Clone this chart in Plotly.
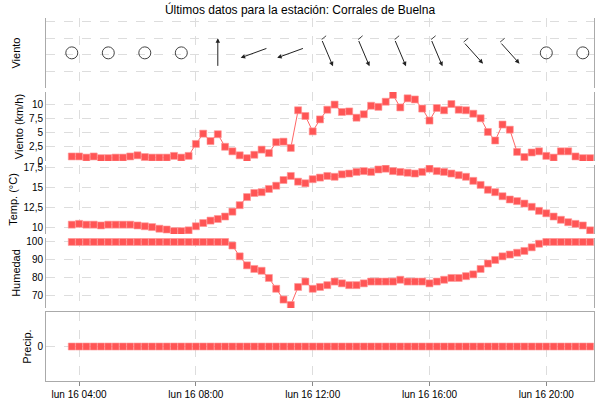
import plotly.graph_objects as go
import pandas as pd
import math

times = pd.date_range("2024-01-16 03:45", periods=72, freq="15min")

wind_speed = [0.8,0.8,0.6,0.8,0.5,0.5,0.6,0.6,0.8,1.0,0.7,0.6,0.6,0.6,0.9,0.6,0.9,3.0,4.8,3.5,
              4.7,2.5,1.7,1.0,0.5,1.1,2.0,1.4,3.3,3.4,2.3,8.9,7.9,5.2,7.3,9.0,9.9,8.6,8.7,7.6,
              8.2,9.7,9.5,10.4,11.6,9.4,11.0,10.8,9.2,7.1,9.3,8.9,10.0,9.0,8.9,8.3,7.5,5.1,3.6,6.4,
              5.5,1.6,0.7,1.5,1.7,0.9,0.6,1.7,1.7,0.8,0.5,0.5]
temp = [10.4,10.5,10.4,10.4,10.3,10.4,10.4,10.4,10.4,10.3,10.2,10.1,9.9,9.8,9.6,9.6,9.7,10.2,10.6,10.9,
        11.1,11.4,12.0,12.8,13.8,14.3,14.4,14.8,15.2,15.9,16.4,15.7,15.5,16.0,16.2,16.4,16.3,16.6,16.7,16.9,
        17.0,16.9,17.2,17.3,17.0,16.9,16.8,16.7,16.9,17.3,17.0,16.9,16.7,16.5,16.3,15.8,15.3,14.7,14.4,13.9,
        13.5,13.3,13.0,12.6,12.1,11.8,11.4,11.0,10.7,10.5,10.3,9.7]
humidity = [100]*22 + [98,92,87,85,84,80,74,68,65,75,78,74,75,76,78,77,76,76,77,78,78,78,78,79,78,78,78,77,
            78,79,80,80,81,82,85,88,90,92,93,94,95,97,99] + [100]*7
precip = [0]*72
# wind direction (degrees the arrow points to) every 5 samples; None = calm
wind_dir = [None,None,None,None,0,250,250,157,157,157,157,138,138,None,None]
wind_barb = [False,False,False,False,False,False,False,True,True,True,True,True,True,False,False]
dir_times = [times[i*5] for i in range(len(wind_dir))]

RED = "#ff5555"
fig = go.Figure()

def series(y, ax):
    fig.add_trace(go.Scatter(x=times, y=y, mode="lines+markers", xaxis="x", yaxis=ax,
                             line=dict(color="#ff6666", width=1),
                             marker=dict(symbol="square", size=7, color=RED,
                                         line=dict(color="rgba(255,150,150,0.6)", width=1)),
                             showlegend=False, hoverinfo="skip"))

series(wind_speed, "y2")
series(temp, "y3")
series(humidity, "y4")
series(precip, "y5")

calm_t = [t for t, d in zip(dir_times, wind_dir) if d is None]
fig.add_trace(go.Scatter(x=calm_t, y=[0.12]*len(calm_t), mode="markers", yaxis="y",
                         marker=dict(symbol="circle-open", size=12, color="#444", line=dict(width=1)),
                         showlegend=False, hoverinfo="skip"))
L = 29
for t, d, b in zip(dir_times, wind_dir, wind_barb):
    if d is None:
        continue
    dx = L * math.sin(math.radians(d))
    dy = -L * math.cos(math.radians(d))
    fig.add_annotation(x=t, y=0.12, xref="x", yref="y", xshift=dx/2, yshift=-dy/2,
                       ax=-dx, ay=-dy, axref="pixel", ayref="pixel", showarrow=True,
                       arrowhead=2, arrowsize=0.9, arrowwidth=1, arrowcolor="#222", text="")
    if b:
        fig.add_annotation(x=t, y=0.12, xref="x", yref="y", xshift=-dx/2, yshift=dy/2,
                           ax=6, ay=-5, axref="pixel", ayref="pixel", showarrow=True,
                           arrowhead=0, arrowwidth=1, arrowcolor="#444", text="")

grid = dict(showgrid=True, gridcolor="#dddddd", griddash="dash", gridwidth=1,
            showline=True, linecolor="#aaaaaa", linewidth=1, mirror=True, automargin=False,
            zeroline=False, ticks="", tickfont=dict(size=10, color="#000"))
font_t = dict(size=11, color="#000")

fig.update_layout(
    width=600, height=400, plot_bgcolor="white", paper_bgcolor="white",
    margin=dict(l=46, r=6, t=18, b=19),
    font=dict(family="Liberation Sans, Arial", size=10, color="#000"),
    title=dict(text="Últimos datos para la estación: Corrales de Buelna", x=0.5, y=0.985,
               xanchor="center", yanchor="top", font=dict(size=12)),
    xaxis=dict(**grid, anchor="y5", range=["2024-01-16 02:52", "2024-01-16 21:38"],
               tickvals=[pd.Timestamp(f"2024-01-16 {h:02d}:00") for h in (4, 8, 12, 16, 20)],
               ticktext=[f"lun 16 {h:02d}:00" for h in (4, 8, 12, 16, 20)]),
    yaxis=dict(**grid, domain=[0.807, 1], range=[-1.98, 2.2], dtick=1, showticklabels=False,
               title=dict(text="Viento", font=font_t, standoff=22)),
    yaxis2=dict(**grid, domain=[0.606, 0.796], range=[0, 12.1], tickvals=[0, 2.5, 5, 7.5, 10],
                ticktext=["0", "2,5", "5", "7,5", "10"],
                title=dict(text="Viento (km/h)", font=font_t, standoff=3)),
    yaxis3=dict(**grid, domain=[0.405, 0.595], range=[9.25, 17.75], tickvals=[10, 12.5, 15, 17.5],
                ticktext=["10", "12,5", "15", "17,5"],
                title=dict(text="Temp. (°C)", font=font_t, standoff=3)),
    yaxis4=dict(**grid, domain=[0.201, 0.394], range=[63.3, 102.2], tickvals=[70, 80, 90, 100],
                title=dict(text="Humedad", font=font_t, standoff=3)),
    yaxis5=dict(**grid, domain=[0, 0.19], range=[-1, 1], tickvals=[0],
                title=dict(text="Precip.", font=font_t, standoff=3)),
)
fig.update_xaxes(ticks="outside", ticklen=4, tickcolor="#888")
fig.write_html("out.html", config={"displayModeBar": False},
               post_script="document.body.style.margin='0';")
